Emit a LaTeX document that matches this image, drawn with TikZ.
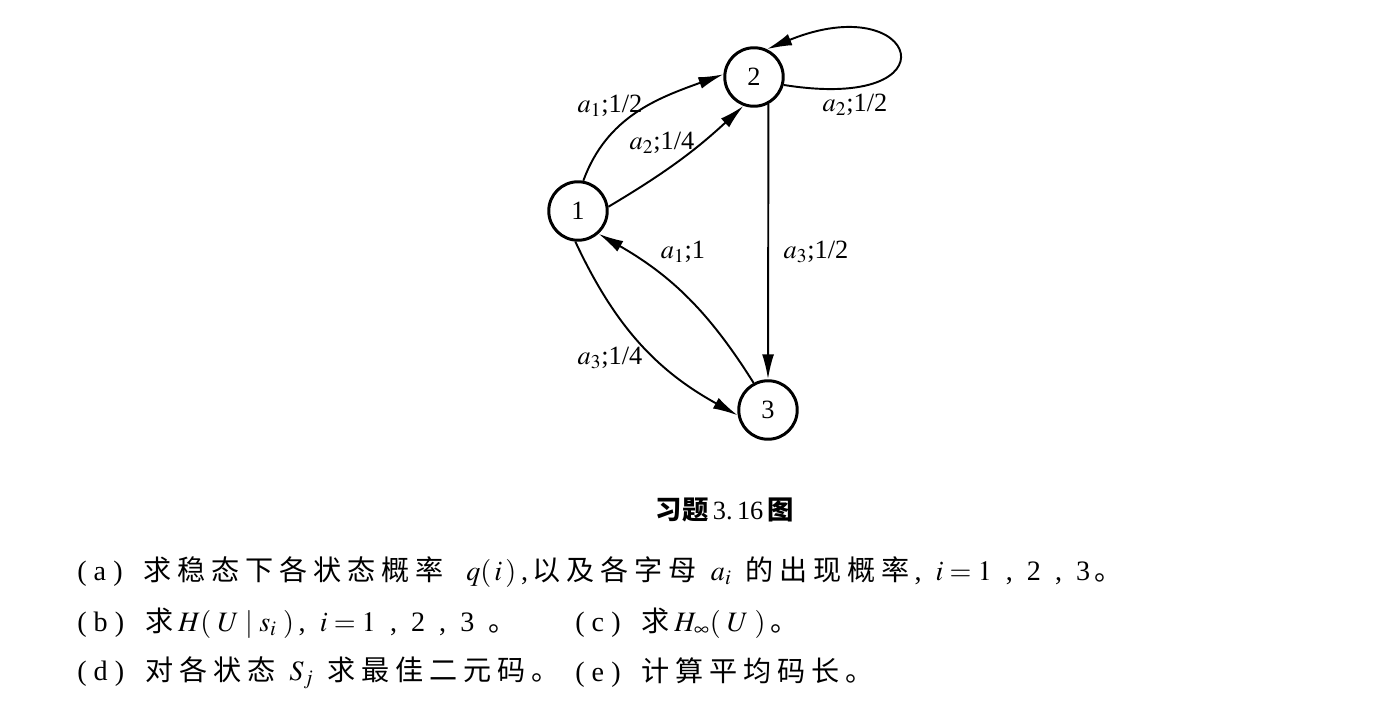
\documentclass[tikz,border=0pt]{standalone}
\usepackage{mathptmx}
\usepackage{fontspec}
\setmainfont{Liberation Serif}
\newfontfamily\cjk[LetterSpace=21]{Noto Sans CJK SC}
\newfontfamily\cjkcap{Noto Sans CJK SC}
\newcommand\itemlab[1]{(\kern4pt#1\kern4pt)\hspace{12pt}}
\usetikzlibrary{arrows.meta}

\begin{document}
\begin{tikzpicture}[x=0.02cm, y=0.02cm,
	state/.style = {circle, draw, line width=1.7pt, minimum size=1.17cm, inner sep=0pt, font=\fontsize{15pt}{17pt}\selectfont},
	trans/.style = {line width=1.1pt, -{Latex[length=0.5cm, width=0.24cm]}},
	lbl/.style = {inner sep=0pt, font=\fontsize{15pt}{17pt}\selectfont},
	txt/.style = {anchor=west, inner sep=0pt, font=\fontsize{16pt}{18pt}\selectfont}]
	\useasboundingbox (0,0) rectangle (1396,708);
	\node[state] (n1) at (578,497) {1};
	\node[state] (n2) at (754,631) {2};
	\node[state] (n3) at (768,298) {3};
	\draw[trans] (n1.80) to[out=70, in=200] (n2.175);
	\draw[trans] (n1.8) to[bend right=6] (n2.250);
	\draw[trans] (n2.-15) .. controls +(175,-28) and +(152,62) .. (n2.65);
	\draw[trans] (n2.-62) -- (n3.north);
	\draw[trans] (n3.118) to[bend right=14] (n1.-48);
	\draw[trans] (n1.-95) to[bend right=18] (n3.190);
	\node[lbl] (l12a) at (610,602) {$a_1$;1/2};
	\node[lbl] (l12b) at (662,565) {$a_2$;1/4};
	\node[lbl] (l22) at (855,603) {$a_2$;1/2};
	\node[lbl] (l23) at (816,456) {$a_3$;1/2};
	\node[lbl] (l31) at (683,456) {$a_1$;1};
	\node[lbl] (l13) at (610,350) {$a_3$;1/4};
	\node[txt, anchor=center, font=\fontsize{15pt}{17pt}\selectfont] (cap) at (725,198) {{\cjkcap\bfseries 习题}\,3.\,16\,{\cjkcap\bfseries 图}};
	\node[txt] (txta) at (77,136) {\itemlab{a}{\cjk 求稳态下各状态概率}\hspace{0.8em}$q(\,i\,)$\,,\,{\cjk 以及各字母}\enspace$a_i$\enspace{\cjk 的出现概率}\,,\enspace$i=1$\enspace,\enspace2\enspace,\enspace3\,{\cjk 。}};
	\node[txt] (txtb) at (77,85) {\itemlab{b}{\cjk 求}\,$H(\;U\;|\;s_i\;)$\,,\enspace$i=1$\enspace,\enspace2\enspace,\enspace3\enspace{\cjk 。}};
	\node[txt] (txtc) at (575,85) {\itemlab{c}{\cjk 求}\,$H_\infty(\;U\;)$\,{\cjk 。}};
	\node[txt] (txtd) at (77,35) {\itemlab{d}{\cjk 对各状态}\enspace$S_j$\enspace{\cjk 求最佳二元码。}};
	\node[txt] (txte) at (575,35) {\itemlab{e}{\cjk 计算平均码长。}};
\end{tikzpicture}
\end{document}
